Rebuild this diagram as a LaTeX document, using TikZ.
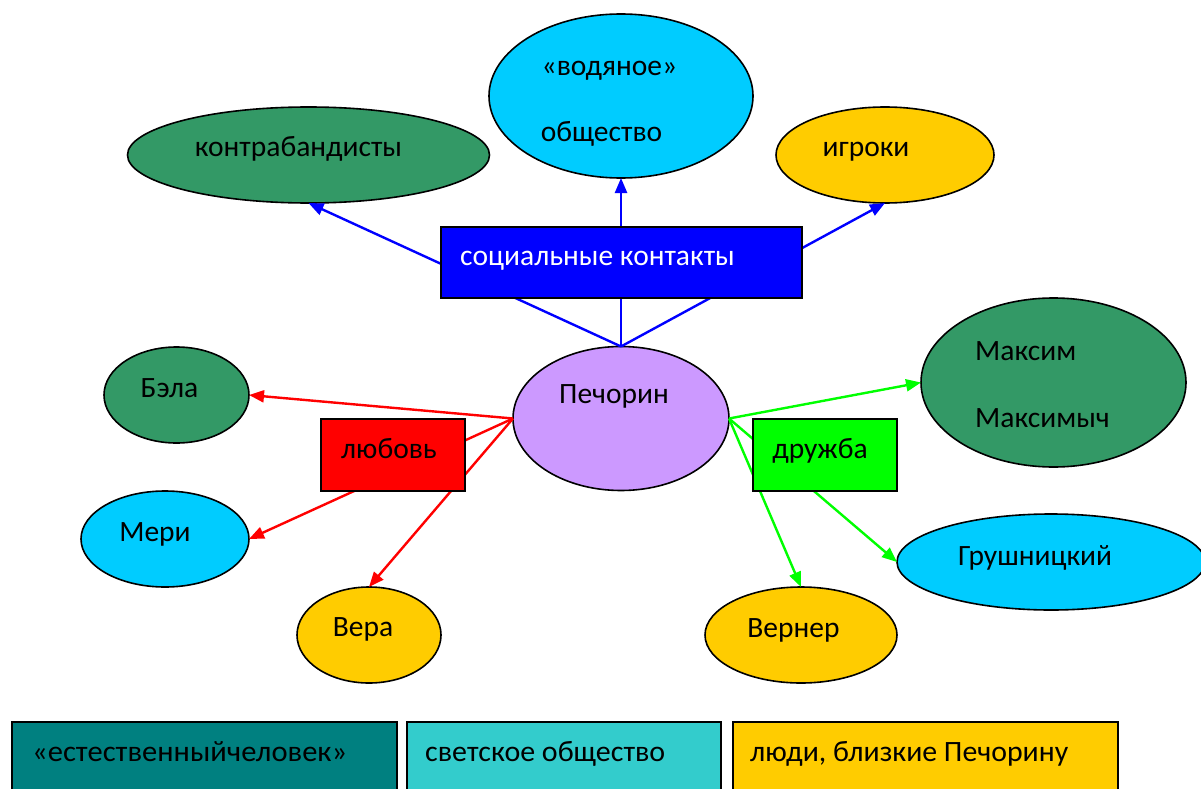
\documentclass[tikz,border=0pt]{standalone}
\usepackage{fontspec}
\setmainfont{Carlito}
\usetikzlibrary{shapes.geometric,arrows.meta}
\definecolor{sgreen}{RGB}{51,153,102}
\definecolor{scyan}{RGB}{0,204,255}
\definecolor{syellow}{RGB}{255,204,0}
\definecolor{slilac}{RGB}{204,153,255}
\definecolor{steal}{RGB}{0,128,128}
\definecolor{slightteal}{RGB}{51,204,204}
\begin{document}
\begin{tikzpicture}[x=1pt,y=-1pt,
  oval/.style={ellipse,draw=black,line width=1.6pt,inner sep=0pt,outer sep=0pt},
  box/.style={rectangle,draw=black,line width=1.8pt,inner sep=0pt,outer sep=0pt,anchor=north west},
  lbl/.style={font=\fontsize{29.5}{35}\selectfont,inner sep=0pt,anchor=base},
  lblw/.style={font=\fontsize{29.5}{35}\selectfont,inner sep=0pt,anchor=base west},
  link/.style={line width=2.4pt,-{Triangle[length=15pt,width=12pt]}},
  legend/.style={draw=black,line width=1.5pt}]
\useasboundingbox (0,0) rectangle (1201,789);
\clip (0,0) rectangle (1201,789);

% ellipses
\node[oval,fill=sgreen,minimum width=362pt,minimum height=96pt] (kontr) at (308.5,155) {};
\node[oval,fill=scyan,minimum width=264pt,minimum height=164pt] (vod) at (621,96) {};
\node[oval,fill=syellow,minimum width=218pt,minimum height=96pt] (igr) at (885,155) {};
\node[oval,fill=slilac,minimum width=216pt,minimum height=144pt] (pech) at (621,418.5) {};
\node[oval,fill=sgreen,minimum width=145pt,minimum height=96pt] (bela) at (176.5,395) {};
\node[oval,fill=scyan,minimum width=168pt,minimum height=96pt] (meri) at (165,539) {};
\node[oval,fill=syellow,minimum width=144pt,minimum height=96pt] (vera) at (369,635) {};
\node[oval,fill=sgreen,minimum width=265pt,minimum height=169pt] (maks) at (1053.5,382.5) {};
\node[oval,fill=scyan,minimum width=308pt,minimum height=96pt] (grush) at (1051,562) {};
\node[oval,fill=syellow,minimum width=192pt,minimum height=96pt] (vern) at (801,635) {};

% connectors
\draw[link,blue] (pech.north) -- (kontr.south);
\draw[link,blue] (pech.north) -- (vod.south);
\draw[link,blue] (pech.north) -- (igr.south);
\draw[link,red] (pech.west) -- (bela.east);
\draw[link,red] (pech.west) -- (meri.east);
\draw[link,red] (pech.west) -- (vera.north);
\draw[link,green] (pech.east) -- (maks.west);
\draw[link,green] (pech.east) -- (vern.north);
\draw[link,green] (pech.east) -- (grush.west);

% category boxes
\node[box,fill=blue,minimum width=361pt,minimum height=71pt] (soc) at (441,227) {};
\node[box,fill=red,minimum width=144pt,minimum height=72pt] (love) at (321,419) {};
\node[box,fill=green,minimum width=144pt,minimum height=72pt] (friend) at (753,419) {};

% labels
\node[lbl] (tkontr) at (298.5,157) {контрабандисты};
\node[lbl] (tvod1) at (609.5,76) {«водяное»};
\node[lbl] (tvod2) at (601.5,142) {общество};
\node[lbl] (tigr) at (866,157) {игроки};
\node[lbl,text=white] (tsoc) at (597.5,265) {социальные контакты};
\node[lbl] (tpech) at (614,403) {Печорин};
\node[lbl] (tbela) at (169.5,397) {Бэла};
\node[lbl] (tlove) at (389,458) {любовь};
\node[lbl] (tmeri) at (155,541) {Мери};
\node[lbl] (tvera) at (363,636) {Вера};
\node[lbl] (tfriend) at (820,458) {дружба};
\node[lblw] (tmaks1) at (975,360) {Максим};
\node[lblw] (tmaks2) at (975,427) {Максимыч};
\node[lbl] (tgrush) at (1035,565) {Грушницкий};
\node[lbl] (tvern) at (793.5,637) {Вернер};

% legend
\draw[legend,fill=steal] (12,722) rectangle (397,800);
\draw[legend,fill=slightteal] (407,722) rectangle (721,800);
\draw[legend,fill=syellow] (733,722) rectangle (1118,800);
\node[lblw] (leg1) at (32,761) {\resizebox{315pt}{\height}{«естественныйчеловек»}};
\node[lblw] (leg2) at (425,761) {\resizebox{240pt}{\height}{светское общество}};
\node[lblw] (leg3) at (750,761) {\resizebox{318pt}{\height}{люди, близкие Печорину}};
\end{tikzpicture}
\end{document}
